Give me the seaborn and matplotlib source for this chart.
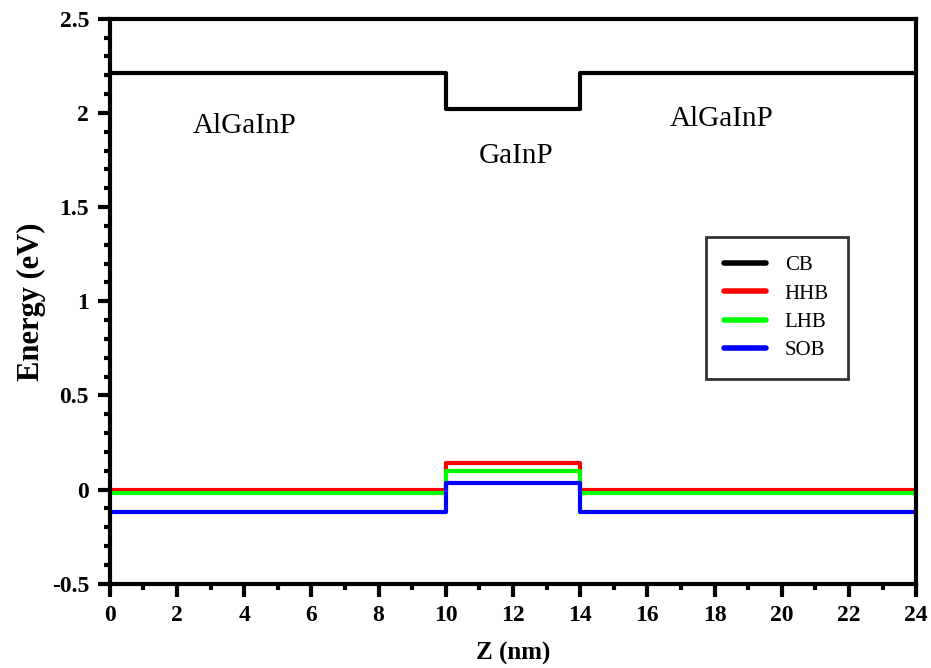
import numpy as np
import pandas as pd
import seaborn as sns
import matplotlib.pyplot as plt
from matplotlib.ticker import MultipleLocator

# band edges across the AlGaInP / GaInP / AlGaInP well (z in nm, energy in eV)
z   = [0, 10, 10, 14, 14, 24]
cb  = [2.21, 2.21, 2.02, 2.02, 2.21, 2.21]
hhb = [0.0, 0.0, 0.14, 0.14, 0.0, 0.0]
lhb = [-0.02, -0.02, 0.10, 0.10, -0.02, -0.02]
sob = [-0.12, -0.12, 0.035, 0.035, -0.12, -0.12]
bands = ['CB', 'HHB', 'LHB', 'SOB']
colors = ['black', '#ff0000', '#00ff00', '#0000ff']

regions = ['AlGaInP', 'GaInP', 'AlGaInP']
region_x = [4.0, 12.1, 18.2]
region_y = [1.93, 1.77, 1.97]

sns.set_style("ticks")
plt.rcParams['font.family'] = ['Liberation Serif', 'DejaVu Serif']
for key in ['text.color', 'axes.labelcolor', 'xtick.color', 'ytick.color', 'axes.edgecolor']:
    plt.rcParams[key] = 'black'

df = pd.concat([
    pd.DataFrame({'Z': z, 'E': vals, 'band': name})
    for name, vals in zip(bands, [cb, hhb, lhb, sob])
])

fig, ax = plt.subplots(figsize=(9.31, 6.68), dpi=100)
fig.subplots_adjust(left=0.118, right=0.984, bottom=0.126, top=0.972)

sns.lineplot(data=df, x='Z', y='E', hue='band', palette=dict(zip(bands, colors)),
             estimator=None, sort=False, lw=3, ax=ax)

ax.set_xlim(0, 24)
ax.set_ylim(-0.5, 2.5)
ax.xaxis.set_major_locator(MultipleLocator(2))
ax.xaxis.set_minor_locator(MultipleLocator(1))
ax.yaxis.set_minor_locator(MultipleLocator(0.1))
ax.set_yticks(np.arange(-0.5, 2.51, 0.5))
ax.set_yticklabels(['-0.5', '0', '0.5', '1', '1.5', '2', '2.5'])

for s in ax.spines.values():
    s.set_linewidth(3)
    s.set_visible(True)
    s.set_color('black')
ax.tick_params(which='major', length=9, width=3, direction='out', labelsize=17, pad=6, colors='black')
ax.tick_params(which='minor', length=4, width=3, direction='out', colors='black')
for lab in ax.get_xticklabels() + ax.get_yticklabels():
    lab.set_fontweight('bold')

ax.set_xlabel('Z (nm)', fontsize=18, fontweight='bold', labelpad=12)
ax.set_ylabel('Energy (eV)', fontsize=22, fontweight='bold', labelpad=4)

for txt, x, y in zip(regions, region_x, region_y):
    ax.text(x, y, txt, fontsize=21, ha='center', va='center', color='black')

old = ax.get_legend()
handles = old.legend_handles
labels = [t.get_text() for t in old.get_texts()]
leg = ax.legend(handles, labels, loc='upper left', bbox_to_anchor=(0.726, 0.632),
                fontsize=15, frameon=True, fancybox=False, edgecolor='black',
                borderpad=0.9, labelspacing=0.42, handlelength=2.0, handletextpad=0.9)
leg.get_frame().set_linewidth(2)
for h in leg.legend_handles:
    h.set_linewidth(4)
for t in leg.get_texts():
    t.set_color('black')

fig.savefig('out.png', dpi=100)
